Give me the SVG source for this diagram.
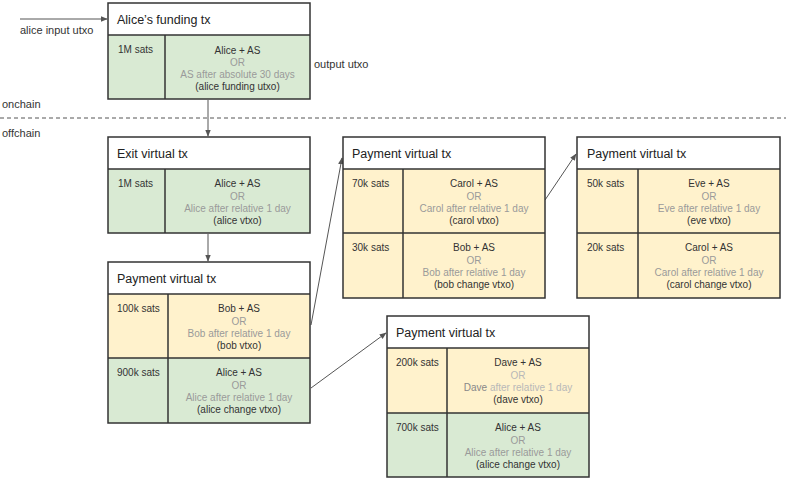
<svg xmlns="http://www.w3.org/2000/svg" width="786" height="482" viewBox="0 0 786 482">
<defs>
<style>
text{font-family:"Liberation Sans",Arial,sans-serif;fill:#333}
.title{font-size:12.5px;fill:#222}
.amt{font-size:10px}
.c{font-size:10px;text-anchor:middle}
.g{fill:#9a9a9a}
.lbl{font-size:11px}
.hdr{fill:#fff}
.green{fill:#d9ead3}
.yellow{fill:#fff2cc}
.frame{fill:none;stroke:#333;stroke-width:1.5}
.conn{stroke:#555;stroke-width:1;fill:none}
</style>
<marker id="arr" viewBox="0 0 10 10" refX="9" refY="5" markerWidth="7" markerHeight="7" orient="auto" markerUnits="userSpaceOnUse">
<path d="M0,1 L10,5 L0,9 Z" fill="#555"/>
</marker>
</defs>
<rect width="786" height="482" fill="#fff"/>

<g id="labels">
<text class="lbl" x="20" y="34">alice input utxo</text>
<text class="lbl" x="314" y="68">output utxo</text>
<text class="lbl" x="2" y="108">onchain</text>
<text class="lbl" x="2" y="137">offchain</text>
<line x1="0" y1="118" x2="786" y2="118" stroke="#555" stroke-width="1" stroke-dasharray="4,3"/>
</g>

<g id="connectors">
<line class="conn" x1="20" y1="19" x2="107" y2="19" marker-end="url(#arr)"/>
<line class="conn" x1="208" y1="100" x2="208" y2="136" marker-end="url(#arr)"/>
<line class="conn" x1="208" y1="234" x2="208" y2="261" marker-end="url(#arr)"/>
<line class="conn" x1="311" y1="325" x2="342" y2="158" marker-end="url(#arr)"/>
<line class="conn" x1="545" y1="200" x2="576" y2="154" marker-end="url(#arr)"/>
<line class="conn" x1="311" y1="388" x2="386" y2="333" marker-end="url(#arr)"/>
</g>

<g id="funding-tx">
<rect class="hdr" x="108" y="3" width="202" height="32"/>
<rect class="green" x="108" y="35" width="202" height="64"/>
<rect class="frame" x="108" y="3" width="202" height="96"/>
<line class="frame" x1="108" y1="35" x2="310" y2="35"/>
<line class="frame" x1="165" y1="35" x2="165" y2="99"/>
<text class="title" x="117" y="24">Alice’s funding tx</text>
<text class="amt" x="118" y="53">1M sats</text>
<text class="c" x="237.5" y="54">Alice + AS</text>
<text class="c g" x="237.5" y="66">OR</text>
<text class="c g" x="237.5" y="78">AS after absolute 30 days</text>
<text class="c" x="237.5" y="90">(alice funding utxo)</text>
</g>

<g id="exit-vtx">
<rect class="hdr" x="108" y="137" width="202" height="32"/>
<rect class="green" x="108" y="169" width="202" height="64"/>
<rect class="frame" x="108" y="137" width="202" height="96"/>
<line class="frame" x1="108" y1="169" x2="310" y2="169"/>
<line class="frame" x1="165" y1="169" x2="165" y2="233"/>
<text class="title" x="117" y="158">Exit virtual tx</text>
<text class="amt" x="118" y="187">1M sats</text>
<text class="c" x="237.5" y="187">Alice + AS</text>
<text class="c g" x="237.5" y="199.5">OR</text>
<text class="c g" x="237.5" y="212">Alice after relative 1 day</text>
<text class="c" x="237.5" y="224">(alice vtxo)</text>
</g>

<g id="payment-alice">
<rect class="hdr" x="108" y="262" width="202" height="32"/>
<rect class="yellow" x="108" y="294" width="202" height="64"/>
<rect class="green" x="108" y="358" width="202" height="65"/>
<rect class="frame" x="108" y="262" width="202" height="161"/>
<line class="frame" x1="108" y1="294" x2="310" y2="294"/>
<line class="frame" x1="108" y1="358" x2="310" y2="358"/>
<line class="frame" x1="168" y1="294" x2="168" y2="423"/>
<text class="title" x="117" y="283">Payment virtual tx</text>
<text class="amt" x="117" y="312">100k sats</text>
<text class="c" x="239" y="312">Bob + AS</text>
<text class="c g" x="239" y="324.5">OR</text>
<text class="c g" x="239" y="337">Bob after relative 1 day</text>
<text class="c" x="239" y="349">(bob vtxo)</text>
<text class="amt" x="117" y="376">900k sats</text>
<text class="c" x="239" y="376">Alice + AS</text>
<text class="c g" x="239" y="388.5">OR</text>
<text class="c g" x="239" y="401">Alice after relative 1 day</text>
<text class="c" x="239" y="413">(alice change vtxo)</text>
</g>

<g id="payment-bob">
<rect class="hdr" x="343" y="137" width="202" height="32"/>
<rect class="yellow" x="343" y="169" width="202" height="129"/>
<rect class="frame" x="343" y="137" width="202" height="161"/>
<line class="frame" x1="343" y1="169" x2="545" y2="169"/>
<line class="frame" x1="343" y1="233" x2="545" y2="233"/>
<line class="frame" x1="403" y1="169" x2="403" y2="298"/>
<text class="title" x="352" y="158">Payment virtual tx</text>
<text class="amt" x="352" y="187">70k sats</text>
<text class="c" x="474" y="187">Carol + AS</text>
<text class="c g" x="474" y="199.5">OR</text>
<text class="c g" x="474" y="212">Carol after relative 1 day</text>
<text class="c" x="474" y="224">(carol vtxo)</text>
<text class="amt" x="352" y="251">30k sats</text>
<text class="c" x="474" y="251">Bob + AS</text>
<text class="c g" x="474" y="263.5">OR</text>
<text class="c g" x="474" y="276">Bob after relative 1 day</text>
<text class="c" x="474" y="288">(bob change vtxo)</text>
</g>

<g id="payment-carol">
<rect class="hdr" x="577" y="137" width="203" height="32"/>
<rect class="yellow" x="577" y="169" width="203" height="129"/>
<rect class="frame" x="577" y="137" width="203" height="161"/>
<line class="frame" x1="577" y1="169" x2="780" y2="169"/>
<line class="frame" x1="577" y1="233" x2="780" y2="233"/>
<line class="frame" x1="638" y1="169" x2="638" y2="298"/>
<text class="title" x="587" y="158">Payment virtual tx</text>
<text class="amt" x="587" y="187">50k sats</text>
<text class="c" x="709" y="187">Eve + AS</text>
<text class="c g" x="709" y="199.5">OR</text>
<text class="c g" x="709" y="212">Eve after relative 1 day</text>
<text class="c" x="709" y="224">(eve vtxo)</text>
<text class="amt" x="587" y="251">20k sats</text>
<text class="c" x="709" y="251">Carol + AS</text>
<text class="c g" x="709" y="263.5">OR</text>
<text class="c g" x="709" y="276">Carol after relative 1 day</text>
<text class="c" x="709" y="288">(carol change vtxo)</text>
</g>

<g id="payment-dave">
<rect class="hdr" x="387" y="316" width="202" height="32"/>
<rect class="yellow" x="387" y="348" width="202" height="65"/>
<rect class="green" x="387" y="413" width="202" height="64"/>
<rect class="frame" x="387" y="316" width="202" height="161"/>
<line class="frame" x1="387" y1="348" x2="589" y2="348"/>
<line class="frame" x1="387" y1="413" x2="589" y2="413"/>
<line class="frame" x1="447" y1="348" x2="447" y2="477"/>
<text class="title" x="396" y="337">Payment virtual tx</text>
<text class="amt" x="396" y="366">200k sats</text>
<text class="c" x="518" y="366">Dave + AS</text>
<text class="c" x="518" y="378.5" style="fill:#b8b8b8">OR</text>
<text class="c" x="518" y="391"><tspan style="fill:#888">Dave</tspan><tspan style="fill:#b8b8b8"> after relative 1 day</tspan></text>
<text class="c" x="518" y="403">(dave vtxo)</text>
<text class="amt" x="396" y="431">700k sats</text>
<text class="c" x="518" y="431">Alice + AS</text>
<text class="c g" x="518" y="443.5">OR</text>
<text class="c g" x="518" y="456">Alice after relative 1 day</text>
<text class="c" x="518" y="468">(alice change vtxo)</text>
</g>
</svg>
